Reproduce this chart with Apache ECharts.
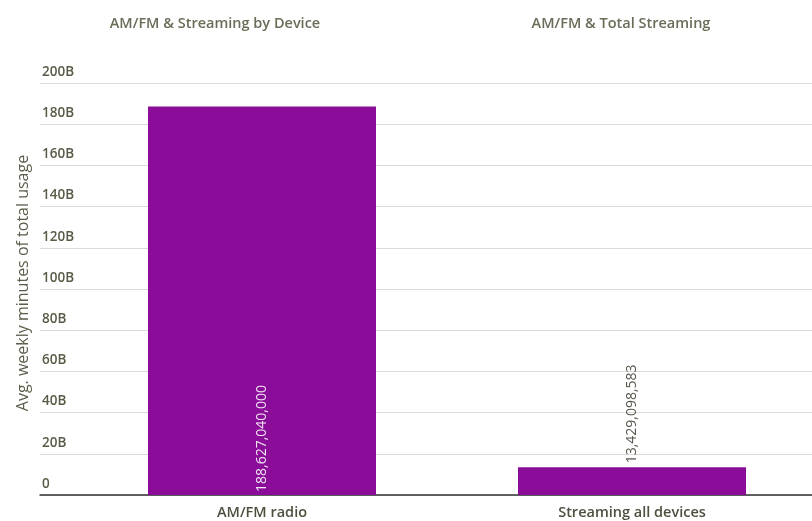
<!DOCTYPE html>
<html><head><meta charset="utf-8">
<script src="https://cdn.jsdelivr.net/npm/echarts@6/dist/echarts.min.js"></script>
<style>html,body{margin:0;padding:0;background:#fff;overflow:hidden}#c{width:817px;height:521px}</style>
</head><body><div id="c"></div>
<script>
var categories = ['AM/FM radio', 'Streaming all devices'];
var values = [188627040000, 13429098583];
var yTicks = [0, 20e9, 40e9, 60e9, 80e9, 100e9, 120e9, 140e9, 160e9, 180e9, 200e9];
var panelTitles = ['AM/FM & Streaming by Device', 'AM/FM & Total Streaming'];
var yName = 'Avg. weekly minutes of total usage';

var FONT = '"Open Sans", "Noto Sans", sans-serif';
var chart = echarts.init(document.getElementById('c'));
function fmtB(v){ return v === 0 ? '0' : (v/1e9) + 'B'; }
function fmtNum(v){ return v.toString().replace(/\B(?=(\d{3})+(?!\d))/g, ','); }

chart.setOption({
  animation: false,
  title: [
    {text: panelTitles[0], left: 210, top: 11, textAlign: 'center',
     textStyle: {fontFamily: FONT, fontSize: 14.5, fontWeight: 600, color: '#6a6c58'}},
    {text: panelTitles[1], left: 616, top: 11, textAlign: 'center',
     textStyle: {fontFamily: FONT, fontSize: 14.5, fontWeight: 600, color: '#6a6c58'}}
  ],
  grid: [
    {left: 40, right: 5, top: 83, bottom: 26},
    {left: 77, right: 0, top: 83, bottom: 26}
  ],
  xAxis: [
    {type: 'category', gridIndex: 0, data: [''], axisLine: {show: true, lineStyle: {color: '#333', width: 1.5}},
     axisTick: {show: false}, axisLabel: {show: false}},
    {type: 'category', gridIndex: 1, data: categories, axisLine: {show: false}, axisTick: {show: false},
     axisLabel: {fontFamily: FONT, fontSize: 14.5, fontWeight: 600, color: '#4e4f3e', margin: 10}}
  ],
  yAxis: [
    {type: 'value', gridIndex: 0, min: 0, max: 200e9, interval: 20e9,
     name: yName, nameLocation: 'middle', nameGap: 7, nameRotate: 90,
     nameTextStyle: {fontFamily: FONT, fontSize: 16, color: '#5c5d4a', padding: [0, 0, 0, 12]},
     axisLine: {show: false}, axisTick: {show: false},
     splitLine: {show: true, lineStyle: {color: '#dadada', width: 1}},
     axisLabel: {inside: true, margin: 2, align: 'left', verticalAlign: 'bottom', padding: [0,0,4,0],
       fontFamily: FONT, fontSize: 13.5, fontWeight: 600, color: '#5a5b47',
       formatter: function(v){ return yTicks.indexOf(v) >= 0 ? fmtB(v) : ''; }}},
    {type: 'value', gridIndex: 1, min: 0, max: 200e9, interval: 20e9, show: false, splitLine: {show: false}}
  ],
  series: [{
    type: 'bar', xAxisIndex: 1, yAxisIndex: 1, barWidth: 228,
    itemStyle: {color: '#8a0c98'},
    data: [
      {value: values[0], label: {show: true, position: 'insideBottom', rotate: 90, align: 'left', verticalAlign: 'middle',
        distance: 3, color: '#f2e6f4', fontFamily: FONT, fontSize: 14, formatter: function(p){ return fmtNum(p.value); }}},
      {value: values[1], label: {show: true, position: 'top', rotate: 90, align: 'left', verticalAlign: 'middle',
        distance: 4, color: '#55564a', fontFamily: FONT, fontSize: 14, formatter: function(p){ return fmtNum(p.value); }}}
    ]
  }]
});
</script></body></html>
